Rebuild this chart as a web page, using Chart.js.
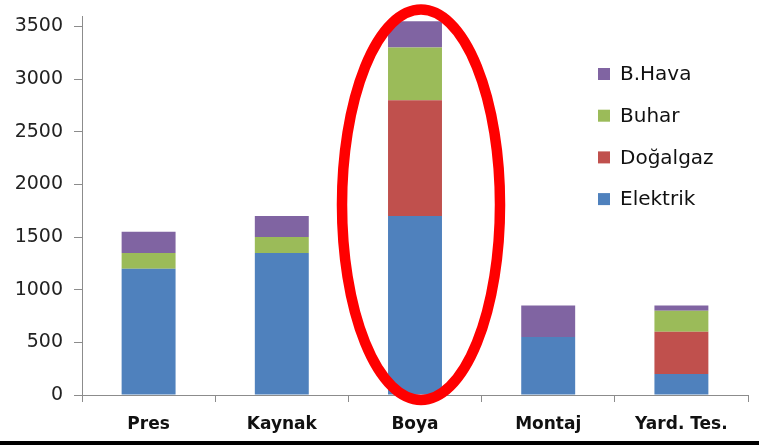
<!DOCTYPE html>
<html>
<head>
<meta charset="utf-8">
<script src="https://cdn.jsdelivr.net/npm/chart.js@4/dist/chart.umd.min.js"></script>
<style>
  html, body { margin: 0; padding: 0; background: #fff; }
  #wrap { position: relative; width: 759px; height: 445px; overflow: hidden; }
  #baseline { position: absolute; left: 0; top: 441px; width: 759px; height: 4px; background: #000; }
</style>
</head>
<body>
<div id="wrap">
  <canvas id="c" width="759" height="445"></canvas>
  <div id="baseline"></div>
</div>
<script>
// Energy consumption per department, stacked by source
const categories = ['Pres', 'Kaynak', 'Boya', 'Montaj', 'Yard. Tes.'];
const elektrik = [1200, 1350, 1700, 550, 200];
const dogalgaz = [0, 0, 1100, 0, 400];
const buhar    = [150, 150, 500, 0, 200];
const bhava    = [200, 200, 250, 300, 50];
const seriesNames = ['Elektrik', 'Doğalgaz', 'Buhar', 'B.Hava'];
const yTickValues = [0, 500, 1000, 1500, 2000, 2500, 3000, 3500];
const highlightIndex = 2; // department circled in red

const colors = ['#4F81BD', '#C0504D', '#9BBB59', '#8064A2'];
const seriesData = [elektrik, dogalgaz, buhar, bhava];

const datasets = seriesNames.map((name, i) => ({
  label: name,
  data: seriesData[i],
  backgroundColor: colors[i],
  borderWidth: 0,
  categoryPercentage: 1,
  barPercentage: 0.405
}));

// Legend drawn inside the plot area, top series first
const insideLegend = {
  id: 'insideLegend',
  afterDraw(chart) {
    const { ctx, chartArea } = chart;
    const x0 = chartArea.right - 150;
    const y0 = chartArea.top + 58;
    const step = 41.7;
    ctx.save();
    ctx.font = '20px "DejaVu Sans"';
    ctx.textBaseline = 'middle';
    ctx.textAlign = 'left';
    const items = chart.data.datasets.slice().reverse();
    items.forEach((ds, k) => {
      const y = y0 + k * step;
      ctx.fillStyle = ds.backgroundColor;
      ctx.fillRect(x0, y - 6, 12, 12);
      ctx.fillStyle = '#111';
      ctx.fillText(ds.label, x0 + 22, y + 1);
    });
    ctx.restore();
  }
};

// Red ellipse highlighting one department
const highlight = {
  id: 'highlight',
  afterDatasetsDraw(chart) {
    const { ctx, chartArea, scales } = chart;
    const cx = scales.x.getPixelForValue(highlightIndex) + 6;
    const top = chartArea.top - 6.5;
    const bottom = chartArea.bottom + 5;
    const cy = (top + bottom) / 2;
    const ry = (bottom - top) / 2;
    const rx = 79;
    ctx.save();
    ctx.beginPath();
    ctx.ellipse(cx, cy, rx, ry, 0, 0, Math.PI * 2);
    ctx.strokeStyle = '#FF0000';
    ctx.lineWidth = 10.5;
    ctx.stroke();
    ctx.restore();
  }
};

new Chart(document.getElementById('c'), {
  type: 'bar',
  data: { labels: categories, datasets },
  options: {
    responsive: false,
    animation: false,
    layout: { padding: { top: 16, right: 11, left: 0, bottom: 0 } },
    plugins: {
      legend: { display: false },
      tooltip: { enabled: false }
    },
    scales: {
      x: {
        stacked: true,
        afterFit(s) { s.height = 50; s.paddingLeft = 0; s.paddingRight = 0; },
        grid: {
          offset: true,
          drawOnChartArea: false,
          drawTicks: true,
          tickLength: 7,
          color: '#8c8c8c'
        },
        border: { color: '#8c8c8c', width: 1 },
        ticks: {
          color: '#111',
          padding: 12,
          font: { family: '"DejaVu Sans"', size: 17, weight: 'bold' }
        }
      },
      y: {
        stacked: true,
        min: 0,
        max: 3600,
        afterFit(s) { s.width = 82; s.paddingTop = 0; s.paddingBottom = 0; },
        afterBuildTicks(s) { s.ticks = yTickValues.map(v => ({ value: v })); },
        grid: {
          drawOnChartArea: false,
          drawTicks: true,
          tickLength: 8,
          color: '#8c8c8c'
        },
        border: { color: '#8c8c8c', width: 1 },
        ticks: {
          color: '#222',
          padding: 11,
          font: { family: '"DejaVu Sans"', size: 19 },
          callback: (v) => String(v)
        }
      }
    }
  },
  plugins: [highlight, insideLegend]
});
</script>
</body>
</html>
